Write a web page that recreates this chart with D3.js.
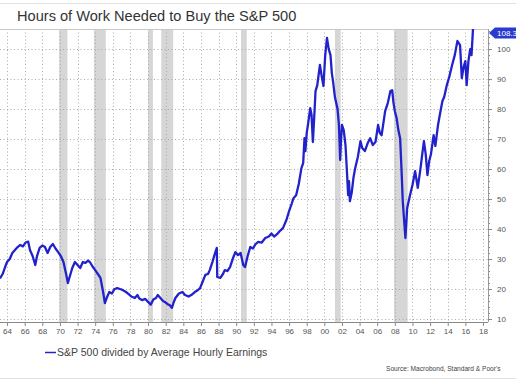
<!DOCTYPE html>
<html>
<head>
<meta charset="utf-8">
<script src="https://cdn.jsdelivr.net/npm/d3@7"></script>
<style>
  body { margin: 0; background: #fff; }
  svg { display: block; font-family: "Liberation Sans", Arial, sans-serif; }
</style>
</head>
<body>
<div id="chart"></div>
<script>
// serie: [año decimal, horas]
const years = [
  1963.2, 1963.5, 1963.8, 1964.0, 1964.3, 1964.6, 1964.9, 1965.2, 1965.5, 1965.8,
  1966.1, 1966.4, 1966.6, 1966.9, 1967.2, 1967.4, 1967.7, 1968.0, 1968.3, 1968.6,
  1968.9, 1969.2, 1969.5, 1969.8, 1970.1, 1970.4, 1970.7, 1970.9, 1971.1, 1971.4,
  1971.7, 1972.0, 1972.3, 1972.6, 1972.9, 1973.2, 1973.4, 1973.7, 1974.0, 1974.3,
  1974.6, 1974.9, 1975.1, 1975.3, 1975.6, 1975.9, 1976.2, 1976.5, 1976.8, 1977.1,
  1977.5, 1977.8, 1978.1, 1978.5, 1978.8, 1979.0, 1979.3, 1979.7, 1980.0, 1980.3,
  1980.6, 1980.9, 1981.1, 1981.4, 1981.7, 1981.9, 1982.2, 1982.5, 1982.7, 1982.9,
  1983.1, 1983.5, 1983.9, 1984.2, 1984.6, 1984.9, 1985.3, 1985.6, 1985.9, 1986.2,
  1986.5, 1986.8, 1987.0, 1987.3, 1987.6, 1987.8, 1987.85, 1988.2, 1988.5, 1988.7,
  1989.0, 1989.3, 1989.6, 1989.9, 1990.2, 1990.5, 1990.8, 1991.0, 1991.3, 1991.6,
  1991.9, 1992.2, 1992.5, 1992.9, 1993.3, 1993.7, 1994.0, 1994.3, 1994.7, 1995.0,
  1995.3, 1995.7, 1996.0, 1996.3, 1996.5, 1996.8, 1997.1, 1997.4, 1997.6, 1997.75,
  1997.85, 1998.0, 1998.2, 1998.4, 1998.55, 1998.7, 1998.9, 1999.0, 1999.2, 1999.5,
  1999.7, 1999.9, 2000.1, 2000.3, 2000.5, 2000.7, 2000.85, 2001.0, 2001.2, 2001.5,
  2001.65, 2001.8, 2001.9, 2002.0, 2002.2, 2002.4, 2002.55, 2002.7, 2002.8, 2002.9,
  2003.1, 2003.3, 2003.5, 2003.8, 2004.1, 2004.3, 2004.6, 2004.9, 2005.2, 2005.5,
  2005.8, 2006.1, 2006.3, 2006.5, 2006.9, 2007.2, 2007.5, 2007.7, 2007.85, 2008.0,
  2008.2, 2008.4, 2008.6, 2008.75, 2008.9, 2009.05, 2009.2, 2009.4, 2009.7, 2010.0,
  2010.3, 2010.6, 2010.9, 2011.1, 2011.3, 2011.5, 2011.7, 2011.9, 2012.1, 2012.4,
  2012.6, 2012.9, 2013.1, 2013.4, 2013.6, 2013.9, 2014.2, 2014.5, 2014.8, 2015.1,
  2015.4, 2015.6, 2015.8, 2016.0, 2016.15, 2016.35, 2016.55, 2016.7, 2016.9
];
const hours = [
  23.5, 25, 27.5, 29, 30, 32, 33, 34, 34.7, 34.2,
  35.5, 35.8, 33, 31, 28, 31, 33.7, 34.5, 34, 32,
  34, 35, 33.5, 32.3, 31, 29, 25, 22, 24, 27,
  29, 28, 27, 29, 28.7, 29.5, 29, 27.5, 26.3, 25,
  23.7, 19, 15.3, 17, 19, 18.5, 20, 20.3, 20, 19.7,
  19, 18.3, 17.5, 17, 18, 16.8, 16.3, 16.7, 15.7, 14.8,
  16.5, 17, 18, 17, 16, 15.7, 15, 14.5, 13.7, 15.5,
  17, 18.5, 19, 18, 17.5, 18, 19, 19.5, 20.3, 22.5,
  24.7, 25, 26.3, 29, 32, 33.7, 24, 23.7, 25, 26.3,
  26, 27.3, 30, 32.3, 31.3, 32, 28, 27.3, 31, 34,
  33.5, 35, 35.7, 35.5, 37, 37.5, 38.5, 37.5, 38.5, 39.5,
  40.3, 43, 46, 48.5, 50.3, 51.3, 55, 60.3, 62, 70.3,
  66, 72, 76, 80.3, 78, 69, 80, 86, 88, 94.7,
  91, 87.7, 98, 103.7, 100, 98, 92, 89, 84, 80,
  75, 63, 70, 74.7, 73, 68, 60, 51.3, 56, 49.3,
  52, 57, 60.3, 64, 69.3, 67, 66, 68.5, 70.3, 68,
  69, 74.7, 72, 71.3, 79.3, 82, 86, 86.3, 82, 79.3,
  77, 73, 70.3, 60.3, 49.3, 43, 37, 47, 51, 54.7,
  59.3, 53.7, 60, 64.7, 69.3, 65, 58, 62.7, 65, 71.3,
  67.7, 74.7, 78, 82.7, 84, 88, 91, 94.7, 98, 102.7,
  101.3, 90.3, 94, 96, 88, 96, 100, 98, 108.3
];

// recesiones (sombreado gris)
const recessionStart = [1969.9, 1973.85, 1980.0, 1981.5, 1990.55, 2001.2, 2007.9];
const recessionEnd   = [1970.85, 1975.2, 1980.55, 1982.85, 1991.2, 2001.85, 2009.45];

const xTickYears = d3.range(1964, 2019, 2);
const yTickValues = [10, 20, 30, 40, 50, 60, 70, 80, 90, 100];
const lastValueLabel = '108.3';

const ancho = 516, alto = 385;
const izq = 0, der = 488, arriba = 29, abajo = 322;

const svg = d3.select('#chart').append('svg')
  .attr('width', ancho)
  .attr('height', alto);

// lineas del marco de la imagen
svg.append('line').attr('x1', 0).attr('x2', ancho).attr('y1', 3.5).attr('y2', 3.5)
  .attr('stroke', '#e2e2e2');
svg.append('line').attr('x1', 0).attr('x2', ancho).attr('y1', 378.5).attr('y2', 378.5)
  .attr('stroke', '#e2e2e2');

svg.append('text')
  .attr('x', 17).attr('y', 21)
  .attr('font-size', 14.6)
  .attr('fill', '#333')
  .text('Hours of Work Needed to Buy the S&P 500');

const x = d3.scaleLinear().domain([1963.2, 2018.57]).range([izq, der]);
const y = d3.scaleLinear().domain([9, 106.7]).range([abajo, arriba]);

svg.append('defs').append('clipPath').attr('id', 'zona')
  .append('rect').attr('x', izq).attr('y', arriba).attr('width', der - izq).attr('height', abajo - arriba);

// sombreado de recesiones
svg.append('g').selectAll('rect')
  .data(recessionStart.map((s, i) => [s, recessionEnd[i]]))
  .enter().append('rect')
  .attr('x', d => x(d[0]))
  .attr('width', d => x(d[1]) - x(d[0]))
  .attr('y', arriba)
  .attr('height', abajo - arriba)
  .attr('fill', '#d6d6d6');

// rejilla punteada
const rejilla = svg.append('g')
  .attr('stroke', '#ababab')
  .attr('stroke-dasharray', '1,2.5');
rejilla.selectAll('.v').data(xTickYears).enter().append('line')
  .attr('x1', d => Math.round(x(d)) + 0.5).attr('x2', d => Math.round(x(d)) + 0.5)
  .attr('y1', arriba).attr('y2', abajo);
rejilla.selectAll('.h').data(yTickValues).enter().append('line')
  .attr('x1', izq).attr('x2', der)
  .attr('y1', d => Math.round(y(d)) + 0.5).attr('y2', d => Math.round(y(d)) + 0.5);

// borde superior
svg.append('line').attr('x1', izq).attr('x2', der).attr('y1', arriba + 0.5).attr('y2', arriba + 0.5)
  .attr('stroke', '#c8c8c8');

// eje x
const ejeX = svg.append('g')
  .attr('transform', `translate(0,${abajo})`)
  .call(d3.axisBottom(x)
    .tickValues(xTickYears)
    .tickSize(4)
    .tickPadding(2)
    .tickFormat(d => String(d % 100).padStart(2, '0')));
ejeX.select('.domain').attr('stroke', '#888').attr('d', `M${izq},0.5H${der}`);
ejeX.selectAll('.tick line').attr('stroke', '#888');
ejeX.selectAll('.tick text').attr('fill', '#555').attr('font-size', 8)
  .attr('font-family', '"Liberation Sans", Arial, sans-serif');

// eje y a la derecha, con marcas menores
const ejeYMenor = svg.append('g')
  .attr('transform', `translate(${der},0)`)
  .call(d3.axisRight(y).tickValues(d3.range(10, 107, 2)).tickSize(2).tickFormat(''));
ejeYMenor.select('.domain').remove();
ejeYMenor.selectAll('.tick line').attr('stroke', '#888');

const ejeY = svg.append('g')
  .attr('transform', `translate(${der},0)`)
  .call(d3.axisRight(y).tickValues(yTickValues).tickSize(4).tickPadding(5));
ejeY.select('.domain').attr('stroke', '#999').attr('d', `M0.5,${arriba}V${abajo}`);
ejeY.selectAll('.tick line').attr('stroke', '#888');
ejeY.selectAll('.tick text').attr('fill', '#555').attr('font-size', 8)
  .attr('font-family', '"Liberation Sans", Arial, sans-serif');

// serie
const datos = years.map((a, i) => ({ anio: a, valor: hours[i] }));
const linea = d3.line().x(d => x(d.anio)).y(d => y(d.valor));
svg.append('path')
  .datum(datos)
  .attr('clip-path', 'url(#zona)')
  .attr('fill', 'none')
  .attr('stroke', '#2222cc')
  .attr('stroke-width', 2.3)
  .attr('stroke-linejoin', 'round')
  .attr('d', linea);

// etiqueta del ultimo valor
const yEtiqueta = Math.max(y(hours[hours.length - 1]), arriba + 4);
const etiqueta = svg.append('g').attr('transform', `translate(${der + 1},${yEtiqueta})`);
etiqueta.append('path')
  .attr('d', 'M0,0 L6,-5.5 H40 V5.5 H6 Z')
  .attr('fill', '#2a3ad0');
etiqueta.append('text')
  .attr('x', 8).attr('y', 3)
  .attr('font-size', 8)
  .attr('fill', '#fff')
  .text(lastValueLabel);

// leyenda
svg.append('line')
  .attr('x1', 45).attr('x2', 56).attr('y1', 352.5).attr('y2', 352.5)
  .attr('stroke', '#2323d2').attr('stroke-width', 1.5);
svg.append('text')
  .attr('x', 57).attr('y', 356)
  .attr('font-size', 10.5)
  .attr('fill', '#444')
  .text('S&P 500 divided by Average Hourly Earnings');

svg.append('text')
  .attr('x', 386).attr('y', 371)
  .attr('font-size', 6.6)
  .attr('fill', '#444')
  .text("Source: Macrobond, Standard & Poor's");
</script>
</body>
</html>
